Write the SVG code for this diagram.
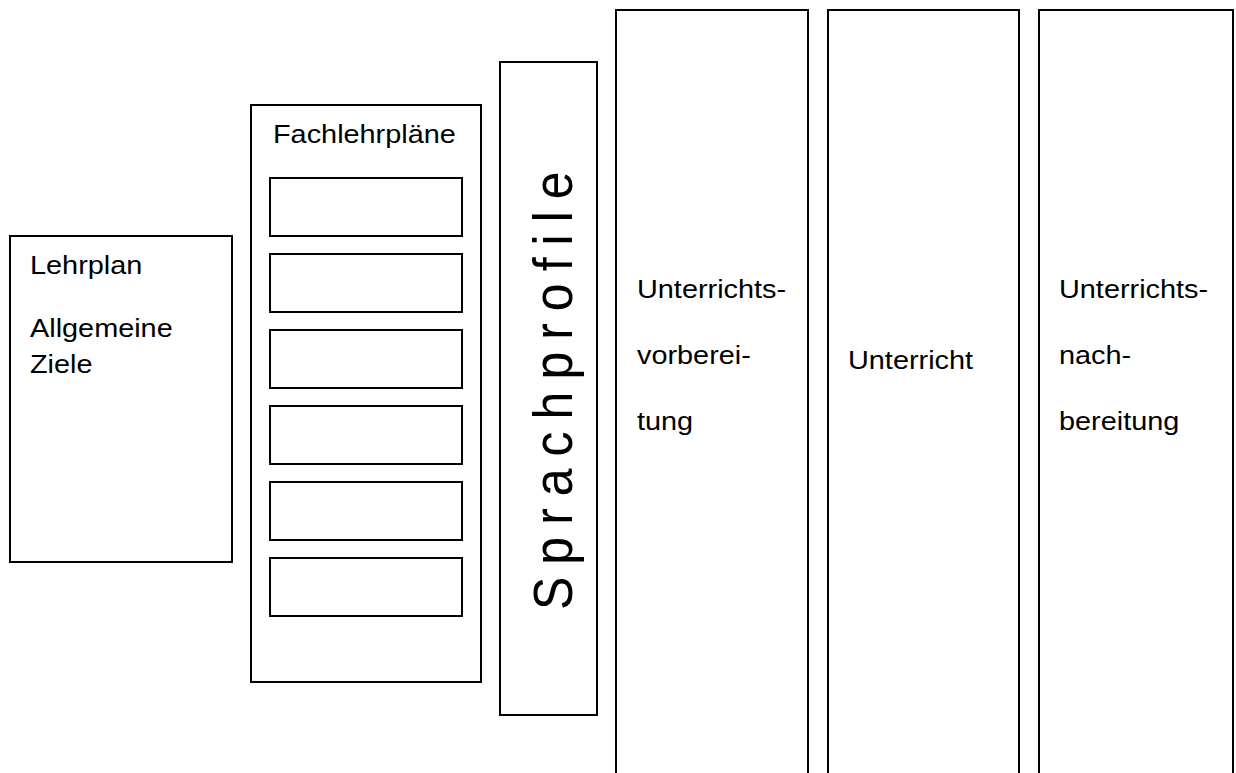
<svg xmlns="http://www.w3.org/2000/svg" width="1236" height="773" viewBox="0 0 1236 773">
<style>
.box{fill:#fff;stroke:#000;stroke-width:2}
.t{font-family:"Liberation Sans",Arial,sans-serif;font-size:26px;fill:#000}
</style>
<rect width="1236" height="773" fill="#fff"/>
<g id="lehrplan">
<rect class="box" x="10" y="236" width="222" height="326"/>
<text class="t" transform="translate(30,274) scale(1.11,1)">Lehrplan</text>
<text class="t" transform="translate(30,337) scale(1.11,1)">Allgemeine</text>
<text class="t" transform="translate(30,373) scale(1.11,1)">Ziele</text>
</g>
<g id="fachlehrplaene">
<rect class="box" x="251" y="105" width="230" height="577"/>
<text class="t" transform="translate(273,143) scale(1.11,1)">Fachlehrpläne</text>
<rect class="box" x="270" y="178" width="192" height="58"/>
<rect class="box" x="270" y="254" width="192" height="58"/>
<rect class="box" x="270" y="330" width="192" height="58"/>
<rect class="box" x="270" y="406" width="192" height="58"/>
<rect class="box" x="270" y="482" width="192" height="58"/>
<rect class="box" x="270" y="558" width="192" height="58"/>
</g>
<g id="sprachprofile">
<rect class="box" x="500" y="62" width="97" height="653"/>
<text class="t" transform="translate(572,610) rotate(-90) scale(1,1.11)" style="font-size:50px;letter-spacing:12px">Sprachprofile</text>
</g>
<g id="vorbereitung">
<rect class="box" x="616" y="10" width="192" height="780"/>
<text class="t" transform="translate(637,298) scale(1.11,1)">Unterrichts-</text>
<text class="t" transform="translate(637,364) scale(1.11,1)">vorberei-</text>
<text class="t" transform="translate(637,430) scale(1.11,1)">tung</text>
</g>
<g id="unterricht">
<rect class="box" x="828" y="10" width="191" height="780"/>
<text class="t" transform="translate(848,369) scale(1.11,1)">Unterricht</text>
</g>
<g id="nachbereitung">
<rect class="box" x="1039" y="10" width="194" height="780"/>
<text class="t" transform="translate(1059,298) scale(1.11,1)">Unterrichts-</text>
<text class="t" transform="translate(1059,364) scale(1.11,1)">nach-</text>
<text class="t" transform="translate(1059,430) scale(1.11,1)">bereitung</text>
</g>
<g id="connectors"></g>
</svg>
